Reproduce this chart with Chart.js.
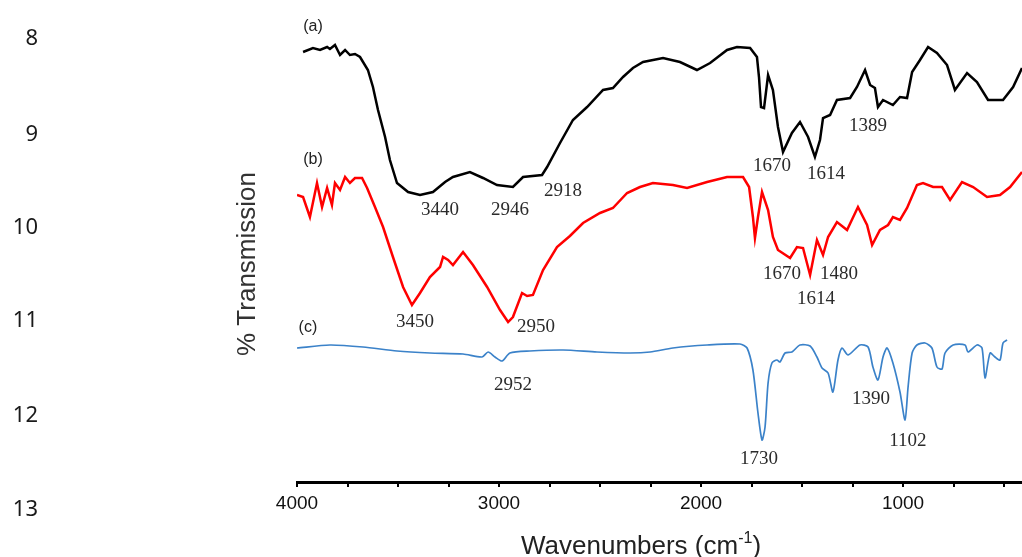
<!DOCTYPE html>
<html>
<head>
<meta charset="utf-8">
<title>FTIR spectra</title>
<script src="https://cdn.jsdelivr.net/npm/chart.js@4.4.1/dist/chart.umd.min.js"></script>
<style>
  html, body { margin: 0; padding: 0; background: #ffffff; }
  canvas { display: block; }
</style>
</head>
<body>
<canvas id="ftir" width="1022" height="557"></canvas>
<script>
// Wavenumber axis (cm-1), plotted high to low
const axisMin = 411;
const axisMax = 4000;
const tickValues = [4000, 3750, 3500, 3250, 3000, 2750, 2500, 2250, 2000, 1750, 1500, 1250, 1000, 750, 500];

// Spectrum (a)
const wnA = [3970, 3921, 3886, 3851, 3837, 3812, 3787, 3762, 3738, 3713, 3688, 3649, 3624, 3599, 3564, 3540, 3505, 3450, 3391, 3327,
  3267, 3228, 3144, 3079, 3010, 2931, 2881, 2787, 2762, 2698, 2634, 2564, 2485, 2436, 2386, 2337, 2287, 2188, 2104, 2020,
  1955, 1871, 1822, 1757, 1723, 1713, 1703, 1688, 1668, 1644, 1619, 1594, 1550, 1510, 1470, 1436, 1411, 1396, 1361, 1327,
  1262, 1228, 1188, 1163, 1139, 1124, 1099, 1050, 1015, 980, 955, 916, 876, 832, 782, 743, 683, 634, 579, 505,
  455, 411];
const tA = [107.5, 108.5, 108, 108.75, 108.25, 109.25, 106.75, 108, 106.75, 107, 106.25, 103, 98.75, 93, 86.25, 80.5, 74.75, 72.5, 71.75, 72.5,
  75, 76.25, 77.5, 76, 74.25, 73.75, 76.25, 76.75, 78.75, 84.75, 90.5, 93.75, 98, 98.5, 101.25, 103.5, 105, 106, 105, 103,
  104.75, 108, 108.75, 108.5, 106.25, 101.25, 93.75, 93.5, 101.75, 98, 88.75, 82.5, 87.25, 90, 86.25, 81.25, 85.5, 91, 91.75, 95.5,
  96, 98.75, 103, 99.25, 98.5, 93.75, 95.5, 94.25, 96.25, 96, 102.5, 105.5, 108.75, 107.25, 104.25, 98, 102.25, 100, 95.5, 95.5,
  98.75, 103.5];

// Spectrum (b)
const wnB = [4000, 3970, 3936, 3901, 3876, 3851, 3827, 3812, 3787, 3762, 3738, 3713, 3678, 3653, 3614, 3574, 3525, 3475, 3431, 3391,
  3342, 3292, 3277, 3252, 3228, 3178, 3129, 3059, 2995, 2955, 2931, 2886, 2861, 2832, 2782, 2713, 2649, 2584, 2500, 2436,
  2366, 2302, 2238, 2139, 2069, 1970, 1871, 1792, 1762, 1743, 1733, 1718, 1698, 1668, 1644, 1619, 1559, 1525, 1495, 1460,
  1426, 1396, 1371, 1327, 1277, 1223, 1178, 1153, 1114, 1074, 1050, 1015, 980, 931, 901, 851, 807, 767, 708, 653,
  584, 520, 470, 411];
const tB = [71.75, 71.25, 66.25, 74.75, 68.75, 73.5, 69.25, 74.75, 73, 76.25, 74.75, 76, 76, 73.5, 68.75, 63.75, 56.25, 48.75, 44.25, 47.25,
  51.25, 53.75, 56.25, 55.5, 54.25, 57.5, 54.25, 48.75, 43, 40, 41.25, 47.25, 46.5, 46.75, 53, 58.75, 61.5, 64.75, 67.25, 68.5,
  72.25, 73.75, 74.75, 74.25, 73.5, 75, 76.25, 76.25, 73.75, 66.25, 61, 66.25, 72.5, 68, 61.25, 58, 56, 58.75, 58.5, 51.75,
  60.5, 56.75, 61.25, 65, 63, 68.75, 64.25, 59.25, 63, 64.25, 66.25, 65.5, 68.5, 74.25, 74.75, 73.75, 73.75, 70.5, 75, 73.75,
  71.25, 71.75, 73.75, 77.5];

// Spectrum (c)
const wnC = [4000, 3837, 3673, 3505, 3342, 3178, 3084, 3054, 3020, 2985, 2946, 2847, 2683, 2515, 2351, 2252, 2139, 1970, 1807, 1772,
  1743, 1718, 1698, 1683, 1668, 1649, 1624, 1609, 1584, 1550, 1510, 1460, 1426, 1401, 1371, 1347, 1322, 1302, 1272, 1213,
  1173, 1149, 1124, 1099, 1079, 1050, 1015, 990, 975, 955, 931, 891, 857, 832, 807, 792, 752, 693, 678, 634,
  609, 594, 569, 545, 520, 505, 485];
const tC = [33.5, 34.25, 33.75, 32.75, 32.25, 32, 31.25, 32.5, 31.25, 30.25, 32.25, 32.75, 33, 32.5, 32.25, 32.5, 33.5, 34.25, 34.5, 33.5,
  28, 17.25, 10.5, 13.75, 24.75, 29.75, 30.5, 30, 32.25, 32.5, 34.25, 34, 31.25, 28.5, 27.25, 22.5, 30.5, 33.5, 31.75, 34.25,
  33.75, 28.75, 25.5, 31.25, 33.5, 29.75, 22.5, 15.5, 23.75, 32.25, 34.25, 34.75, 33.5, 28.75, 28.25, 32.25, 34.25, 34.25, 32.5, 34.25,
  33.5, 26, 32.25, 31.25, 30.5, 34.75, 35.5];

// Trace tags and band assignments, anchored in axis units
const traceTags = [
  { text: '(a)', wn: 3921, t: 113.75 },
  { text: '(b)', wn: 3921, t: 80.5 },
  { text: '(c)', wn: 3946, t: 38.5 }
];
const bandLabels = [
  { text: '3440', wn: 3292, t: 68 },
  { text: '2946', wn: 2946, t: 68 },
  { text: '2918', wn: 2683, t: 72.75 },
  { text: '1670', wn: 1649, t: 79 },
  { text: '1614', wn: 1381, t: 77 },
  { text: '1389', wn: 1173, t: 89 },
  { text: '3450', wn: 3416, t: 40 },
  { text: '2950', wn: 2817, t: 38.75 },
  { text: '1670', wn: 1599, t: 52 },
  { text: '1480', wn: 1317, t: 52 },
  { text: '1614', wn: 1431, t: 45.75 },
  { text: '2952', wn: 2931, t: 24.25 },
  { text: '1390', wn: 1159, t: 20.75 },
  { text: '1730', wn: 1713, t: 5.75 },
  { text: '1102', wn: 976, t: 10.25 }
];

// Manuscript line numbers in the left margin
const lineNumbers = ['8', '9', '10', '11', '12', '13'];
const lineNumberY = [39, 135, 228, 321, 416, 510];

const toPoints = (xs, ys) => xs.map((x, i) => ({ x: x, y: ys[i] }));

const overlayText = {
  id: 'overlayText',
  afterDraw(chart) {
    const ctx = chart.ctx;
    const xs = chart.scales.x;
    const ys = chart.scales.y;
    ctx.save();

    // line numbers
    ctx.fillStyle = '#1a1a1a';
    ctx.font = '22px "Noto Sans"';
    ctx.textAlign = 'right';
    ctx.textBaseline = 'middle';
    lineNumbers.forEach((n, i) => ctx.fillText(n, 38, lineNumberY[i]));

    // y axis title
    ctx.save();
    ctx.translate(248, 264);
    ctx.rotate(-Math.PI / 2);
    ctx.fillStyle = '#333333';
    ctx.font = '26px "Liberation Sans"';
    ctx.textAlign = 'center';
    ctx.textBaseline = 'middle';
    ctx.fillText('% Transmission', 0, 0);
    ctx.restore();

    // x axis title with superscript
    ctx.fillStyle = '#222222';
    const main = 'Wavenumbers (cm';
    const sup = '-1';
    const close = ')';
    ctx.font = '26px "Liberation Sans"';
    const wMain = ctx.measureText(main).width;
    const wClose = ctx.measureText(close).width;
    ctx.font = '16px "Liberation Sans"';
    const wSup = ctx.measureText(sup).width;
    const x0 = 641 - (wMain + wSup + wClose) / 2;
    const base = 554;
    ctx.textAlign = 'left';
    ctx.textBaseline = 'alphabetic';
    ctx.font = '26px "Liberation Sans"';
    ctx.fillText(main, x0, base);
    ctx.font = '16px "Liberation Sans"';
    ctx.fillText(sup, x0 + wMain, base - 11);
    ctx.font = '26px "Liberation Sans"';
    ctx.fillText(close, x0 + wMain + wSup, base);

    // trace tags
    ctx.fillStyle = '#222222';
    ctx.font = '16px "Liberation Sans"';
    ctx.textAlign = 'center';
    ctx.textBaseline = 'middle';
    traceTags.forEach(t => ctx.fillText(t.text, xs.getPixelForValue(t.wn), ys.getPixelForValue(t.t)));

    // band labels
    ctx.fillStyle = '#2b2b2b';
    ctx.font = '19px "Liberation Serif"';
    bandLabels.forEach(b => ctx.fillText(b.text, xs.getPixelForValue(b.wn), ys.getPixelForValue(b.t)));

    ctx.restore();
  }
};

new Chart(document.getElementById('ftir'), {
  type: 'line',
  data: {
    datasets: [
      { label: '(a)', data: toPoints(wnA, tA), borderColor: '#000000', borderWidth: 2.5, tension: 0, pointRadius: 0 },
      { label: '(b)', data: toPoints(wnB, tB), borderColor: '#ff0000', borderWidth: 2.5, tension: 0, pointRadius: 0 },
      { label: '(c)', data: toPoints(wnC, tC), borderColor: '#3b82c9', borderWidth: 1.7, tension: 0.25, pointRadius: 0 }
    ]
  },
  options: {
    responsive: false,
    animation: false,
    devicePixelRatio: 1,
    layout: { padding: { left: 297, right: 0, top: 2, bottom: 0 } },
    plugins: { legend: { display: false }, tooltip: { enabled: false }, title: { display: false } },
    scales: {
      x: {
        type: 'linear',
        reverse: true,
        min: axisMin,
        max: axisMax,
        afterBuildTicks: scale => { scale.ticks = tickValues.map(v => ({ value: v })); },
        afterFit: scale => { scale.height = 75; },
        border: { display: true, color: '#000000', width: 3 },
        grid: { drawOnChartArea: false, drawTicks: true, tickLength: 5, color: '#000000', lineWidth: 2 },
        ticks: {
          autoSkip: false,
          maxRotation: 0,
          padding: 5,
          color: '#111111',
          font: { family: 'Liberation Sans', size: 19 },
          callback: v => (v % 1000 === 0 ? String(v) : '')
        }
      },
      y: { display: false, min: 0, max: 120 }
    }
  },
  plugins: [overlayText]
});
</script>
</body>
</html>
